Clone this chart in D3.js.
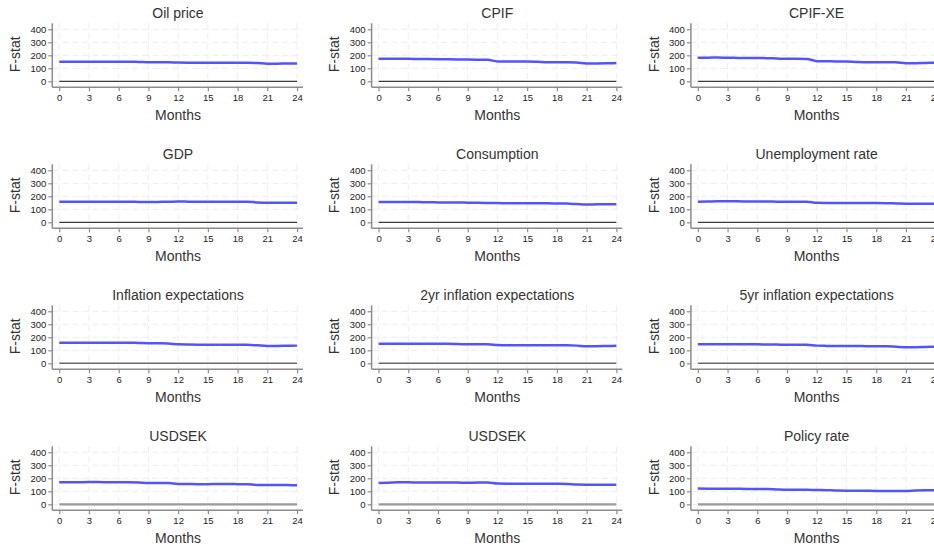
<!DOCTYPE html>
<html>
<head>
<meta charset="utf-8">
<script src="https://cdn.jsdelivr.net/npm/d3@7"></script>
<style>
  body { margin: 0; background: #fff; }
  svg { display: block; font-family: "Liberation Sans", Arial, sans-serif; }
</style>
</head>
<body>
<div id="chart"></div>
<script>
// months 0..24
const months = d3.range(0, 25);
const xTicks = [0, 3, 6, 9, 12, 15, 18, 21, 24];
const yTicks = [0, 100, 200, 300, 400];

const titles = [
  "Oil price", "CPIF", "CPIF-XE",
  "GDP", "Consumption", "Unemployment rate",
  "Inflation expectations", "2yr inflation expectations", "5yr inflation expectations",
  "USDSEK", "USDSEK", "Policy rate"
];

const oilPrice = [151,151,151,151,150,150,150,151,149,147,147,147,144,143,143,143,143,143,143,142,140,136,136,137,137];
const cpif = [174,174,173,173,172,171,170,169,168,167,166,165,153,152,152,152,150,147,146,146,144,137,137,138,140];
const cpifXe = [182,182,183,181,180,179,179,178,175,173,173,172,155,154,153,152,149,147,147,147,146,139,139,141,143];
const gdp = [158,158,159,159,158,158,158,158,157,156,157,158,160,159,158,158,158,158,159,158,153,151,151,151,150];
const consumption = [156,157,157,157,156,154,153,152,152,151,150,149,148,147,146,146,146,146,145,144,140,137,138,139,139];
const unemployment = [159,160,161,161,161,160,160,160,159,159,159,159,150,149,149,149,149,148,148,147,145,143,143,143,143];
const inflExp = [158,158,158,158,158,158,158,159,157,155,154,152,146,144,143,143,143,143,142,142,138,134,134,135,136];
const inflExp2y = [151,151,151,151,151,151,151,150,148,146,146,146,140,138,138,138,138,138,138,138,136,131,131,133,135];
const inflExp5y = [146,146,147,147,147,147,146,145,144,143,143,142,136,134,133,133,133,132,132,132,128,123,124,126,128];
const usdsekA = [169,169,170,171,171,170,170,169,167,164,164,163,157,156,155,155,156,156,155,154,149,149,149,148,147];
const usdsekB = [164,166,169,169,168,168,168,168,167,165,168,168,160,159,159,159,159,159,158,157,152,151,151,151,150];
const policyRate = [121,120,120,120,119,118,117,117,114,112,112,112,110,109,106,105,105,104,103,103,103,103,107,108,108];

const series = [oilPrice, cpif, cpifXe, gdp, consumption, unemployment,
  inflExp, inflExp2y, inflExp5y, usdsekA, usdsekB, policyRate];

const W = 934, H = 547;
const colStep = 319.3, rowStep = 141;

const svg = d3.select("#chart").append("svg")
  .attr("width", W)
  .attr("height", H);
svg.append("rect").attr("width", W).attr("height", H).attr("fill", "#fff");

// one panel's plot box (relative to the panel origin)
const px0 = 52.3, px1 = 303, py0 = 23.3, py1 = 87.3;

const x = d3.scaleLinear().domain([-0.7, 24.6]).range([px0, px1]);
const y = d3.scaleLinear().domain([-46, 446]).range([py1, py0]);

const zeroStyle = [
  { color: "#3c3c3c", width: 1.2 },
  { color: "#3c3c3c", width: 1.2 },
  { color: "#6a6a6a", width: 1.5 },
  { color: "#9a9a9a", width: 2.2 }
];

series.forEach((vals, i) => {
  const row = Math.floor(i / 3), col = i % 3;
  const g = svg.append("g")
    .attr("transform", `translate(${col * colStep},${row * rowStep})`);

  // grid
  g.append("g").selectAll("line").data(yTicks).enter().append("line")
    .attr("x1", px0).attr("x2", px1)
    .attr("y1", d => y(d)).attr("y2", d => y(d))
    .attr("stroke", "#ededed").attr("stroke-width", 1)
    .attr("stroke-dasharray", "6,4");
  g.append("g").selectAll("line").data(xTicks).enter().append("line")
    .attr("x1", d => x(d)).attr("x2", d => x(d))
    .attr("y1", py0).attr("y2", py1)
    .attr("stroke", "#ededed").attr("stroke-width", 1)
    .attr("stroke-dasharray", "6,4");

  // zero line
  g.append("line")
    .attr("x1", x(0)).attr("x2", x(24))
    .attr("y1", y(0)).attr("y2", y(0))
    .attr("stroke", zeroStyle[row].color)
    .attr("stroke-width", zeroStyle[row].width);

  // F-stat line
  const line = d3.line()
    .x((d, j) => x(months[j]))
    .y(d => y(d))
    .curve(d3.curveMonotoneX);
  g.append("path")
    .datum(vals)
    .attr("fill", "none")
    .attr("stroke", "#4b4bff")
    .attr("stroke-width", 2.5)
    .attr("stroke-opacity", 0.95)
    .attr("d", line);

  // axes
  const yAxis = g.append("g")
    .attr("transform", `translate(${px0},0)`)
    .call(d3.axisLeft(y).tickValues(yTicks).tickSize(4).tickPadding(2));
  const xAxis = g.append("g")
    .attr("transform", `translate(0,${py1})`)
    .call(d3.axisBottom(x).tickValues(xTicks).tickSize(4).tickPadding(3));

  [yAxis, xAxis].forEach(a => {
    a.select(".domain").attr("stroke", "#8c8c8c").attr("stroke-width", 1.5);
    a.selectAll(".tick line").attr("stroke", "#8c8c8c").attr("stroke-width", 1.2);
    a.selectAll(".tick text")
      .attr("fill", "#222")
      .style("font-size", "9.5px")
      .style("font-family", "'Liberation Sans', Arial, sans-serif");
  });
  yAxis.select(".domain").attr("d", `M-0,${py0}V${py1}`);
  xAxis.select(".domain").attr("d", `M${px0},0H${px1}`);

  // titles
  g.append("text")
    .attr("x", 178).attr("y", 18)
    .attr("text-anchor", "middle")
    .attr("fill", "#333")
    .style("font-size", "14px")
    .text(titles[i]);

  g.append("text")
    .attr("x", 178).attr("y", 120)
    .attr("text-anchor", "middle")
    .attr("fill", "#333")
    .style("font-size", "14px")
    .text("Months");

  g.append("text")
    .attr("transform", `translate(20,${(py0 + py1) / 2 - 1}) rotate(-90)`)
    .attr("text-anchor", "middle")
    .attr("fill", "#333")
    .style("font-size", "14px")
    .text("F-stat");
});
</script>
</body>
</html>
